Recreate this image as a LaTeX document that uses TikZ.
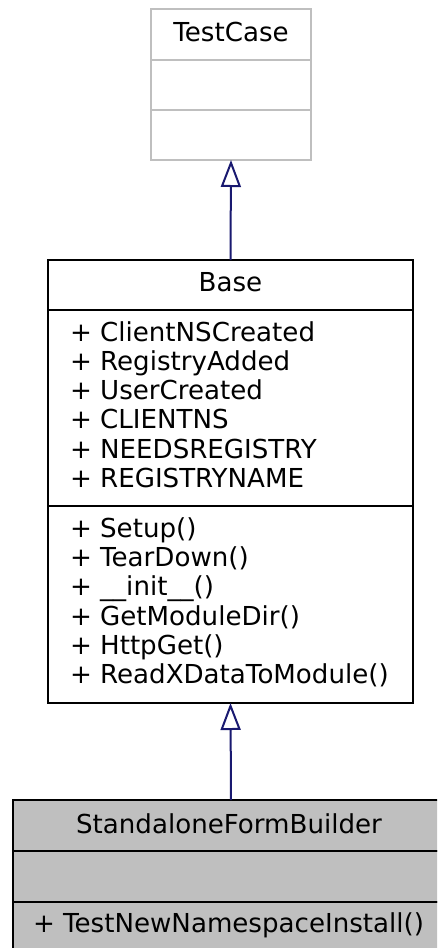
\documentclass[tikz,border=0pt]{standalone}
\usepackage{fontspec}
\setmainfont{DejaVu Sans}
\usetikzlibrary{arrows.meta}
\definecolor{edgeblue}{HTML}{191970}
\definecolor{lgray}{HTML}{BFBFBF}
\tikzset{
  comp/.style={draw=black, line width=2pt, rectangle, inner sep=0pt, outer sep=0pt},
  graycomp/.style={draw=lgray, line width=2pt, rectangle, inner sep=0pt, outer sep=0pt},
  filledcomp/.style={comp, fill=lgray},
  lbl/.style={inner sep=0pt, outer sep=0pt, font=\fontsize{26.1}{30}\selectfont},
  inherit/.style={draw=edgeblue, line width=2pt, -{Triangle[open, length=27pt, width=20pt, fill=white]}},
}
\begin{document}
\begin{tikzpicture}[x=1pt,y=-1pt]
\useasboundingbox (0,0) rectangle (437,948);
\clip (0,0) rectangle (437,948);
\fill[white] (0,0) rectangle (437,948);
% TestCase
\node[graycomp, minimum width=160pt, minimum height=51pt] (tc1) at (231,34.5) {};
\node[graycomp, minimum width=160pt, minimum height=50pt] (tc2) at (231,85) {};
\node[graycomp, minimum width=160pt, minimum height=50pt] (tc3) at (231,135) {};
\node[lbl, anchor=base] (tct) at (231,41.5) {TestCase};
% Base
\node[comp, minimum width=365pt, minimum height=50pt] (b1) at (230.5,285) {};
\node[comp, minimum width=365pt, minimum height=196pt] (b2) at (230.5,408) {};
\node[comp, minimum width=365pt, minimum height=197pt] (b3) at (230.5,604.5) {};
\node[lbl, anchor=base] (bt) at (230.5,291) {Base};
\node[lbl, anchor=base west] (a1) at (70,341) {+ ClientNSCreated};
\node[lbl, anchor=base west] (a2) at (70,370.3) {+ RegistryAdded};
\node[lbl, anchor=base west] (a3) at (70,399.6) {+ UserCreated};
\node[lbl, anchor=base west] (a4) at (70,428.9) {+ CLIENTNS};
\node[lbl, anchor=base west] (a5) at (70,458.2) {+ NEEDSREGISTRY};
\node[lbl, anchor=base west] (a6) at (70,487.5) {+ REGISTRYNAME};
\node[lbl, anchor=base west] (m1) at (70,537.5) {+ Setup()};
\node[lbl, anchor=base west] (m2) at (70,566.7) {+ TearDown()};
\node[lbl, anchor=base west] (m3) at (70,595.9) {+ \_\_init\_\_()};
\node[lbl, anchor=base west] (m4) at (70,625.1) {+ GetModuleDir()};
\node[lbl, anchor=base west] (m5) at (70,654.3) {+ HttpGet()};
\node[lbl, anchor=base west] (m6) at (70,683.5) {+ ReadXDataToModule()};
% StandaloneFormBuilder
\node[filledcomp, minimum width=436pt, minimum height=51pt] (s1) at (231,825.5) {};
\node[filledcomp, minimum width=436pt, minimum height=51pt] (s2) at (231,876.5) {};
\node[filledcomp, minimum width=436pt, minimum height=51pt] (s3) at (231,927.5) {};
\node[lbl, anchor=base] (st) at (229,833.5) {StandaloneFormBuilder};
\node[lbl, anchor=base west] (sm1) at (33,932.5) {+ TestNewNamespaceInstall()};
% edges
\draw[inherit] (b1.north) -- (tc3.south);
\draw[inherit] (s1.north) -- (b3.south);
\end{tikzpicture}
\end{document}
